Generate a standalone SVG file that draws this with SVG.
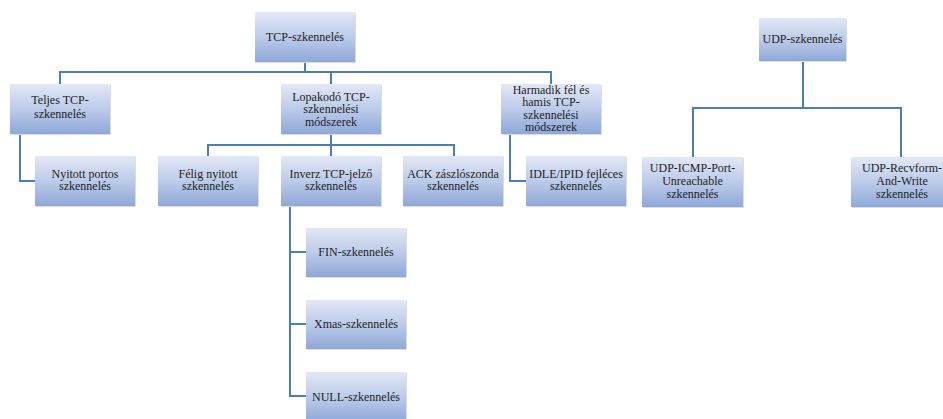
<svg xmlns="http://www.w3.org/2000/svg" width="943" height="419" viewBox="0 0 943 419">
<defs>
<linearGradient id="g" x1="0" y1="0" x2="0" y2="1">
<stop offset="0" stop-color="#e2e8f6"/>
<stop offset="0.5" stop-color="#bccbe9"/>
<stop offset="1" stop-color="#8fa8d8"/>
</linearGradient>
</defs>
<style>
.box{fill:url(#g);}
.sh{fill:#d9dde4;}
text{font-family:'Liberation Serif','DejaVu Serif',serif;font-size:12px;fill:#1e1e1e;text-anchor:middle;}
.c{fill:none;stroke:#4a7ebb;stroke-width:2;}
</style>
<rect width="943" height="419" fill="#ffffff"/>
<g id="connectors">
<path class="c" d="M305 62V72M60 84V72H551V84M331 72V84"/>
<path class="c" d="M20 134V181H35"/>
<path class="c" d="M331 134V156M208 156V145H454V156"/>
<path class="c" d="M510 134V181H526"/>
<path class="c" d="M290 206V396H306M290 252H306M290 324H306"/>
<path class="c" d="M803 61V108M693 157V108H901V157"/>
</g>
<g id="tcp"><rect class="sh" x="256" y="13" width="100" height="50"/><rect class="box" x="255" y="12" width="100" height="50"/><text x="305" y="41">TCP-szkennelés</text></g>
<g id="teljes"><rect class="sh" x="11" y="85" width="100" height="50"/><rect class="box" x="10" y="84" width="100" height="50"/><text x="60" y="104">Teljes TCP-</text><text x="60" y="117.5">szkennelés</text></g>
<g id="lopakodo"><rect class="sh" x="282" y="85" width="100" height="50"/><rect class="box" x="281" y="84" width="100" height="50"/><text x="331" y="100.5">Lopakodó TCP-</text><text x="331" y="113">szkennelési</text><text x="331" y="125.5">módszerek</text></g>
<g id="harmadik"><rect class="sh" x="502" y="85" width="100" height="50"/><rect class="box" x="501" y="84" width="100" height="50"/><text x="551" y="93.5">Harmadik fél és</text><text x="551" y="106">hamis TCP-</text><text x="551" y="118.5">szkennelési</text><text x="551" y="131">módszerek</text></g>
<g id="nyitott"><rect class="sh" x="36" y="157" width="100" height="50"/><rect class="box" x="35" y="156" width="100" height="50"/><text x="85" y="177.5">Nyitott portos</text><text x="85" y="190">szkennelés</text></g>
<g id="felig"><rect class="sh" x="159" y="157" width="100" height="50"/><rect class="box" x="158" y="156" width="100" height="50"/><text x="208" y="177.5">Félig nyitott</text><text x="208" y="190">szkennelés</text></g>
<g id="inverz"><rect class="sh" x="282" y="157" width="100" height="50"/><rect class="box" x="281" y="156" width="100" height="50"/><text x="331" y="177.5">Inverz TCP-jelző</text><text x="331" y="190">szkennelés</text></g>
<g id="ack"><rect class="sh" x="404" y="157" width="100" height="50"/><rect class="box" x="403" y="156" width="100" height="50"/><text x="453" y="177.5">ACK zászlószonda</text><text x="453" y="190">szkennelés</text></g>
<g id="idle"><rect class="sh" x="527" y="157" width="100" height="50"/><rect class="box" x="526" y="156" width="100" height="50"/><text x="576" y="177.5">IDLE/IPID fejléces</text><text x="576" y="190">szkennelés</text></g>
<g id="fin"><rect class="sh" x="307" y="229" width="100" height="49"/><rect class="box" x="306" y="228" width="100" height="49"/><text x="356" y="256">FIN-szkennelés</text></g>
<g id="xmas"><rect class="sh" x="307" y="301" width="100" height="49"/><rect class="box" x="306" y="300" width="100" height="49"/><text x="356" y="328">Xmas-szkennelés</text></g>
<g id="null"><rect class="sh" x="307" y="373" width="100" height="50"/><rect class="box" x="306" y="372" width="100" height="50"/><text x="356" y="401">NULL-szkennelés</text></g>
<g id="udp"><rect class="sh" x="760" y="19" width="87" height="43"/><rect class="box" x="759" y="18" width="87" height="43"/><text x="802.5" y="43">UDP-szkennelés</text></g>
<g id="icmp"><rect class="sh" x="643" y="158" width="101" height="50"/><rect class="box" x="642" y="157" width="101" height="50"/><text x="692.5" y="172">UDP-ICMP-Port-</text><text x="692.5" y="185">Unreachable</text><text x="692.5" y="198">szkennelés</text></g>
<g id="recv"><rect class="sh" x="852" y="158" width="102" height="50"/><rect class="box" x="851" y="157" width="102" height="50"/><text x="902" y="172">UDP-Recvform-</text><text x="902" y="185">And-Write</text><text x="902" y="198">szkennelés</text></g>
</svg>
